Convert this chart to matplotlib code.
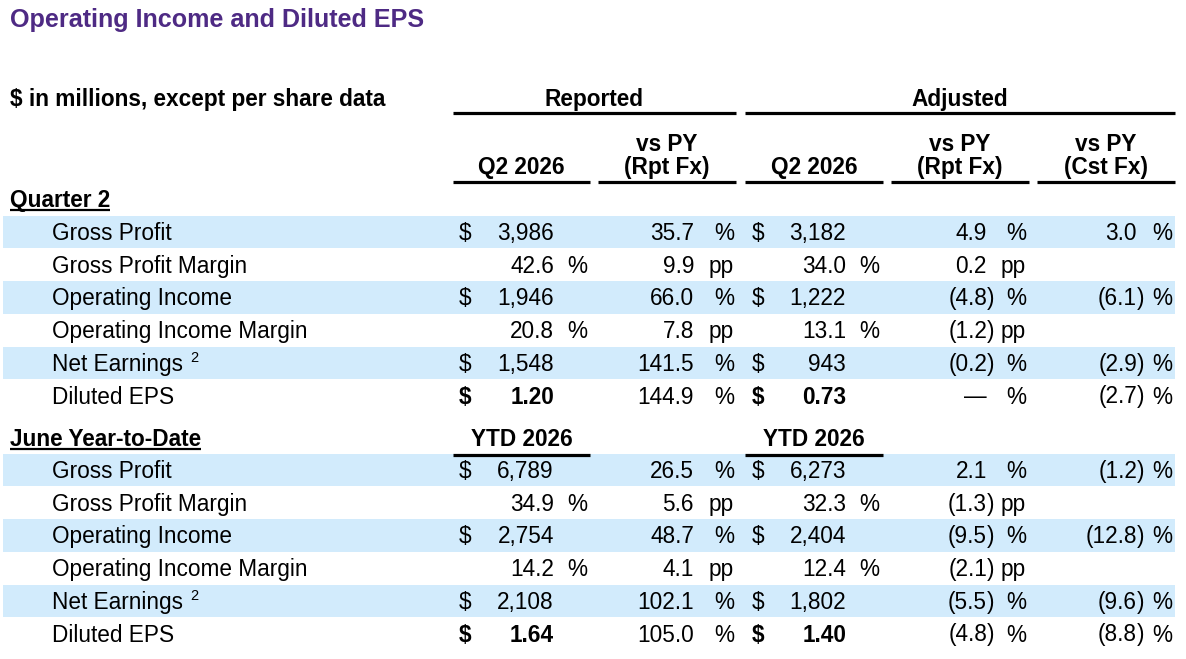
import matplotlib
matplotlib.use("Agg")
import matplotlib.pyplot as plt
from matplotlib.patches import Rectangle

plt.rcParams["font.family"] = ["Liberation Sans", "DejaVu Sans"]

# ---- data ----
row_labels = ["Gross Profit", "Gross Profit Margin", "Operating Income",
              "Operating Income Margin", "Net Earnings", "Diluted EPS"]
row_kind = ["usd", "pct", "usd", "pct", "usd", "eps"]
row_unit = ["%", "pp", "%", "pp", "%", "%"]

q2_rep = [3986, 42.6, 1946, 20.8, 1548, 1.20]
q2_rep_vs = [35.7, 9.9, 66.0, 7.8, 141.5, 144.9]
q2_adj = [3182, 34.0, 1222, 13.1, 943, 0.73]
q2_adj_vs = [4.9, 0.2, -4.8, -1.2, -0.2, 0.0]
q2_adj_cst = [3.0, None, -6.1, None, -2.9, -2.7]

ytd_rep = [6789, 34.9, 2754, 14.2, 2108, 1.64]
ytd_rep_vs = [26.5, 5.6, 48.7, 4.1, 102.1, 105.0]
ytd_adj = [6273, 32.3, 2404, 12.4, 1802, 1.40]
ytd_adj_vs = [2.1, -1.3, -9.5, -2.1, -5.5, -4.8]
ytd_adj_cst = [-1.2, None, -12.8, None, -9.6, -8.8]

TITLE = "Operating Income and Diluted EPS"
PURPLE = "#4E2A84"
BAND = "#D2EBFC"
FS = 16.3
DY = 1.5  # nudge text down a touch

W, H = 1186, 659
fig = plt.figure(figsize=(W / 100, H / 100), dpi=100)
ax = fig.add_axes([0, 0, 1, 1])
ax.set_xlim(0, W)
ax.set_ylim(H, 0)
ax.axis("off")

# column geometry (pixels)
cols = {
    "A": dict(dollar=459, right=554, unit=587, l=453, r=590),
    "B": dict(right=694, unit=734, l=598, r=736),
    "C": dict(dollar=752, right=846, unit=879, l=745, r=883),
    "D": dict(right=987, unit=1026, l=891, r=1029),
    "E": dict(right=1137, unit=1172, l=1037, r=1175),
}


def txt(x, y, s, ha="left", bold=False, size=FS, color="black"):
    return ax.text(x, y + DY, s, ha=ha, va="center", fontsize=size,
                   fontweight="bold" if bold else "normal", color=color)


def uline(x0, x1, y, lw=2.3):
    ax.plot([x0, x1], [y, y], color="black", lw=lw, solid_capstyle="butt")


def center(c):
    return (cols[c]["l"] + cols[c]["r"]) / 2


def fmt_main(v, kind):
    if kind == "usd":
        return f"{v:,.0f}"
    if kind == "eps":
        return f"{v:.2f}"
    return f"{v:.1f}"


def draw_change(c, y, v, unit):
    if v is None:
        return
    x = cols[c]["right"]
    if v == 0:
        txt(x, y, "\u2014", ha="right")
    elif v < 0:
        txt(x, y, f"({abs(v):.1f}", ha="right")
        txt(x, y, ")", ha="left")
    else:
        txt(x, y, f"{v:.1f}", ha="right")
    txt(cols[c]["unit"], y, unit, ha="right")


def draw_main(c, y, v, kind):
    bold = kind == "eps"
    if kind != "pct":
        txt(cols[c]["dollar"], y, "$", bold=bold)
    txt(cols[c]["right"], y, fmt_main(v, kind), ha="right", bold=bold)
    if kind == "pct":
        txt(cols[c]["unit"], y, "%", ha="right")


def section(y0, rep, rep_vs, adj, adj_vs, adj_cst, pitch=32.7):
    for i, lab in enumerate(row_labels):
        y = y0 + i * pitch
        if i % 2 == 0:
            ax.add_patch(Rectangle((3, y - 16.3), 1172, 32.5, color=BAND, lw=0, zorder=0))
        t = txt(52, y, lab)
        if lab == "Net Earnings":
            fig.canvas.draw()
            bb = t.get_window_extent().transformed(ax.transData.inverted())
            txt(bb.x1 + 7, y - 6, "2", size=10.5)
        draw_main("A", y, rep[i], row_kind[i])
        draw_change("B", y, rep_vs[i], row_unit[i])
        draw_main("C", y, adj[i], row_kind[i])
        draw_change("D", y, adj_vs[i], row_unit[i])
        draw_change("E", y, adj_cst[i], "%")


def section_head(y, s):
    t = txt(10, y, s, bold=True)
    fig.canvas.draw()
    bb = t.get_window_extent().transformed(ax.transData.inverted())
    uline(bb.x0, bb.x1, y + 11, lw=1.6)


# title and headers
txt(10, 18, TITLE, bold=True, size=18.1, color=PURPLE)
txt(10, 98, "$ in millions, except per share data", bold=True)
txt((cols["A"]["l"] + cols["B"]["r"]) / 2, 98, "Reported", ha="center", bold=True)
txt((cols["C"]["l"] + cols["E"]["r"]) / 2, 98, "Adjusted", ha="center", bold=True)
uline(cols["A"]["l"], cols["B"]["r"], 113)
uline(cols["C"]["l"], cols["E"]["r"], 113)

sub_heads = {"A": "Q2 2026", "B": "(Rpt Fx)", "C": "Q2 2026", "D": "(Rpt Fx)", "E": "(Cst Fx)"}
for c, s in sub_heads.items():
    txt(center(c), 166, s, ha="center", bold=True)
    if c in ("B", "D", "E"):
        txt(center(c), 143, "vs PY", ha="center", bold=True)
    uline(cols[c]["l"], cols[c]["r"], 182)

section_head(199, "Quarter 2")
section(232, q2_rep, q2_rep_vs, q2_adj, q2_adj_vs, q2_adj_cst)

section_head(438, "June Year-to-Date")
for c in ("A", "C"):
    txt(center(c), 438, "YTD 2026", ha="center", bold=True)
    uline(cols[c]["l"], cols[c]["r"], 455)
section(470, ytd_rep, ytd_rep_vs, ytd_adj, ytd_adj_vs, ytd_adj_cst)

fig.savefig("out.png", dpi=100)
